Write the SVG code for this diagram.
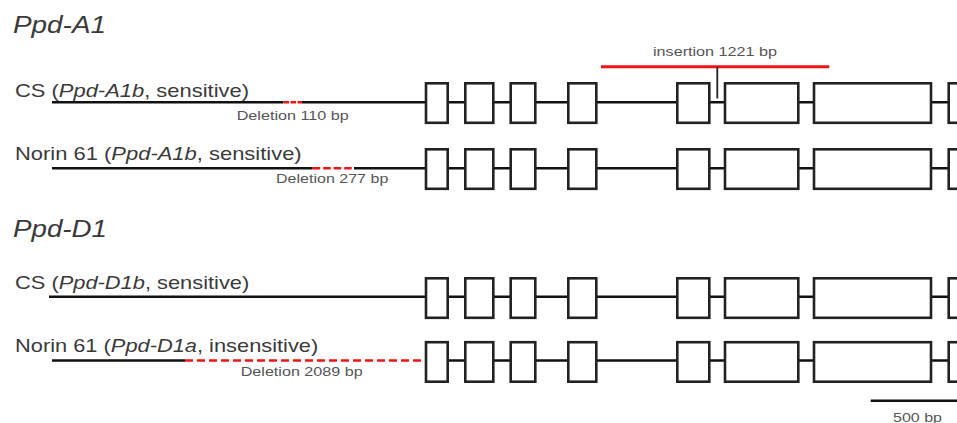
<svg xmlns="http://www.w3.org/2000/svg" width="957" height="423" viewBox="0 0 957 423">
<style>
.bg{fill:#fff}
.intron{stroke:#111;stroke-width:2.6;fill:none}
.exon{fill:#fff;stroke:#222;stroke-width:2.6}
.del{stroke:#f01414;stroke-width:2.6;fill:none}
.ins{stroke:#f01414;stroke-width:3;fill:none}
.title{font-family:"Liberation Sans",Arial,sans-serif;font-style:italic;font-size:24px;fill:#3a3a3a}
.lab{font-family:"Liberation Sans",Arial,sans-serif;font-size:19px;fill:#3a3a3a}
.small{font-family:"Liberation Sans",Arial,sans-serif;font-size:13.5px;fill:#555}
</style>
<defs>
<g id="exons">
<rect class="exon" x="426" y="-19.5" width="21.7" height="39.5"/>
<rect class="exon" x="465.3" y="-19.5" width="28" height="39.5"/>
<rect class="exon" x="510.7" y="-19.5" width="24.6" height="39.5"/>
<rect class="exon" x="568.3" y="-19.5" width="28" height="39.5"/>
<rect class="exon" x="677.3" y="-19.5" width="32" height="39.5"/>
<rect class="exon" x="725" y="-19.5" width="73.3" height="39.5"/>
<rect class="exon" x="814" y="-19.5" width="117" height="39.5"/>
<rect class="exon" x="948.7" y="-19.5" width="30" height="39.5"/>
</g>
</defs>
<rect class="bg" x="0" y="0" width="957" height="423"/>

<text class="title" x="13" y="33" textLength="93" lengthAdjust="spacingAndGlyphs">Ppd-A1</text>
<text class="title" x="13" y="237" textLength="94" lengthAdjust="spacingAndGlyphs">Ppd-D1</text>

<g id="connectors">
<line class="intron" x1="52" y1="102.3" x2="283.5" y2="102.3"/>
<line class="del" x1="283.5" y1="102.3" x2="302" y2="102.3" stroke-dasharray="5.5,1.5"/>
<line class="intron" x1="302" y1="102.3" x2="950" y2="102.3"/>
<line class="intron" x1="52" y1="168.3" x2="312.7" y2="168.3"/>
<line class="del" x1="312.7" y1="168.3" x2="354" y2="168.3" stroke-dasharray="7.5,3"/>
<line class="intron" x1="354" y1="168.3" x2="950" y2="168.3"/>
<line class="intron" x1="49" y1="296.7" x2="950" y2="296.7"/>
<line class="intron" x1="52" y1="360.5" x2="185" y2="360.5"/>
<line class="del" x1="185" y1="360.5" x2="426" y2="360.5" stroke-dasharray="8,4"/>
<line class="intron" x1="426" y1="360.5" x2="950" y2="360.5"/>
<line class="ins" x1="601" y1="66.7" x2="829.3" y2="66.7"/>
<line x1="717.3" y1="66.7" x2="717.3" y2="98.5" stroke="#222" stroke-width="1.8"/>
<line x1="870.7" y1="400.7" x2="960" y2="400.7" stroke="#111" stroke-width="2.6"/>
</g>

<g id="row-a1-cs">
<text class="lab" x="15" y="96.7" textLength="234" lengthAdjust="spacingAndGlyphs">CS (<tspan font-style="italic">Ppd-A1b</tspan>, sensitive)</text>
<use href="#exons" transform="translate(0,102.8)"/>
<text class="small" x="236.7" y="120" textLength="112" lengthAdjust="spacingAndGlyphs">Deletion 110 bp</text>
</g>

<g id="insertion">
<text class="small" x="653" y="56" textLength="124" lengthAdjust="spacingAndGlyphs">insertion 1221 bp</text>
</g>

<g id="row-a1-norin">
<text class="lab" x="15" y="160" textLength="286.7" lengthAdjust="spacingAndGlyphs">Norin 61 (<tspan font-style="italic">Ppd-A1b</tspan>, sensitive)</text>
<use href="#exons" transform="translate(0,168.8)"/>
<text class="small" x="276" y="183.3" textLength="112.3" lengthAdjust="spacingAndGlyphs">Deletion 277 bp</text>
</g>

<g id="row-d1-cs">
<text class="lab" x="15" y="289.3" textLength="234.3" lengthAdjust="spacingAndGlyphs">CS (<tspan font-style="italic">Ppd-D1b</tspan>, sensitive)</text>
<use href="#exons" transform="translate(0,297.8)"/>
</g>

<g id="row-d1-norin">
<text class="lab" x="15" y="351.7" textLength="303.3" lengthAdjust="spacingAndGlyphs">Norin 61 (<tspan font-style="italic">Ppd-D1a</tspan>, insensitive)</text>
<use href="#exons" transform="translate(0,361.7)"/>
<text class="small" x="240.7" y="375.7" textLength="122" lengthAdjust="spacingAndGlyphs">Deletion 2089 bp</text>
</g>

<g id="scale">
<text class="small" x="893" y="421.5" textLength="49" lengthAdjust="spacingAndGlyphs">500 bp</text>
</g>
</svg>
